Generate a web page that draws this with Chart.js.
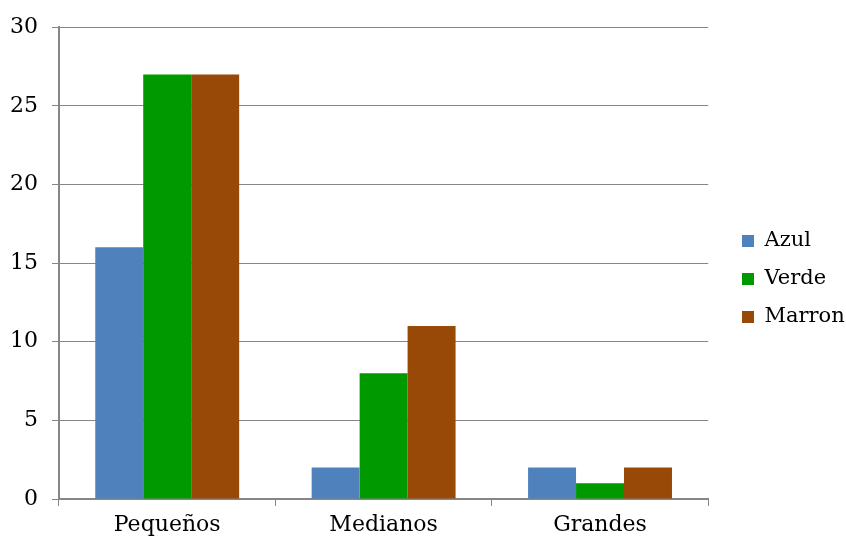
<!DOCTYPE html>
<html>
<head>
<meta charset="utf-8">
<script src="https://cdn.jsdelivr.net/npm/chart.js@4.4.1/dist/chart.umd.min.js"></script>
<style>
  html,body{margin:0;padding:0;background:#fff;}
  #wrap{width:846px;height:536px;position:relative;}
</style>
</head>
<body>
<div id="wrap"><canvas id="ch"></canvas></div>
<script>
// categorias y series
const CATEGORIAS = ['Pequeños','Medianos','Grandes'];
const AZUL   = [16, 2, 2];
const VERDE  = [27, 8, 1];
const MARRON = [27, 11, 2];
const Y_MAX = 30, Y_PASO = 5;

const FUENTE = "'DejaVu Serif', 'Liberation Serif', serif";
const GRIS = '#868686';
const LEYENDA_X = 742; // donde empiezan los cuadritos de la leyenda
const LEYENDA_DY = -2; // un poquito mas arriba

// corre la leyenda sin mover el area del grafico
const moverLeyenda = {
  id: 'moverLeyenda',
  afterLayout(chart){
    const lg = chart.legend; if(!lg) return;
    const d = LEYENDA_X - (lg.left + lg.options.labels.padding);
    lg.left += d; lg.right += d;
    lg.top += LEYENDA_DY; lg.bottom += LEYENDA_DY;
  }
};

new Chart(document.getElementById('ch'), {
  type: 'bar',
  data: {
    labels: CATEGORIAS,
    datasets: [
      { label:'Azul',   data:AZUL,   backgroundColor:'#4F81BD' },
      { label:'Verde',  data:VERDE,  backgroundColor:'#009900' },
      { label:'Marron', data:MARRON, backgroundColor:'#984807' }
    ]
  },
  plugins: [moverLeyenda],
  options: {
    responsive: true,
    maintainAspectRatio: false,
    animation: false,
    layout: { padding: { top: 26, right: 8, left: 0, bottom: 0 } },
    datasets: { bar: { categoryPercentage: 0.665, barPercentage: 1 } },
    plugins: {
      tooltip: { enabled: false },
      legend: {
        position: 'right',
        labels: {
          boxWidth: 12, boxHeight: 12, padding: 17,
          color: '#000',
          font: { family: FUENTE, size: 21 }
        }
      }
    },
    scales: {
      x: {
        grid: { offset: true, drawOnChartArea: false, drawTicks: true, tickLength: 7, color: GRIS },
        border: { color: GRIS, width: 2 },
        ticks: { color: '#000', padding: 6, font: { family: FUENTE, size: 22 } },
        afterFit: s => { s.height = 37; }
      },
      y: {
        min: 0, max: Y_MAX,
        grid: { color: GRIS, tickLength: 7, lineWidth: 1 },
        border: { color: GRIS, width: 2 },
        ticks: { stepSize: Y_PASO, color: '#000', padding: 14, font: { family: FUENTE, size: 22 } },
        afterFit: s => { s.width = 59; }
      }
    }
  }
});
</script>
</body>
</html>
